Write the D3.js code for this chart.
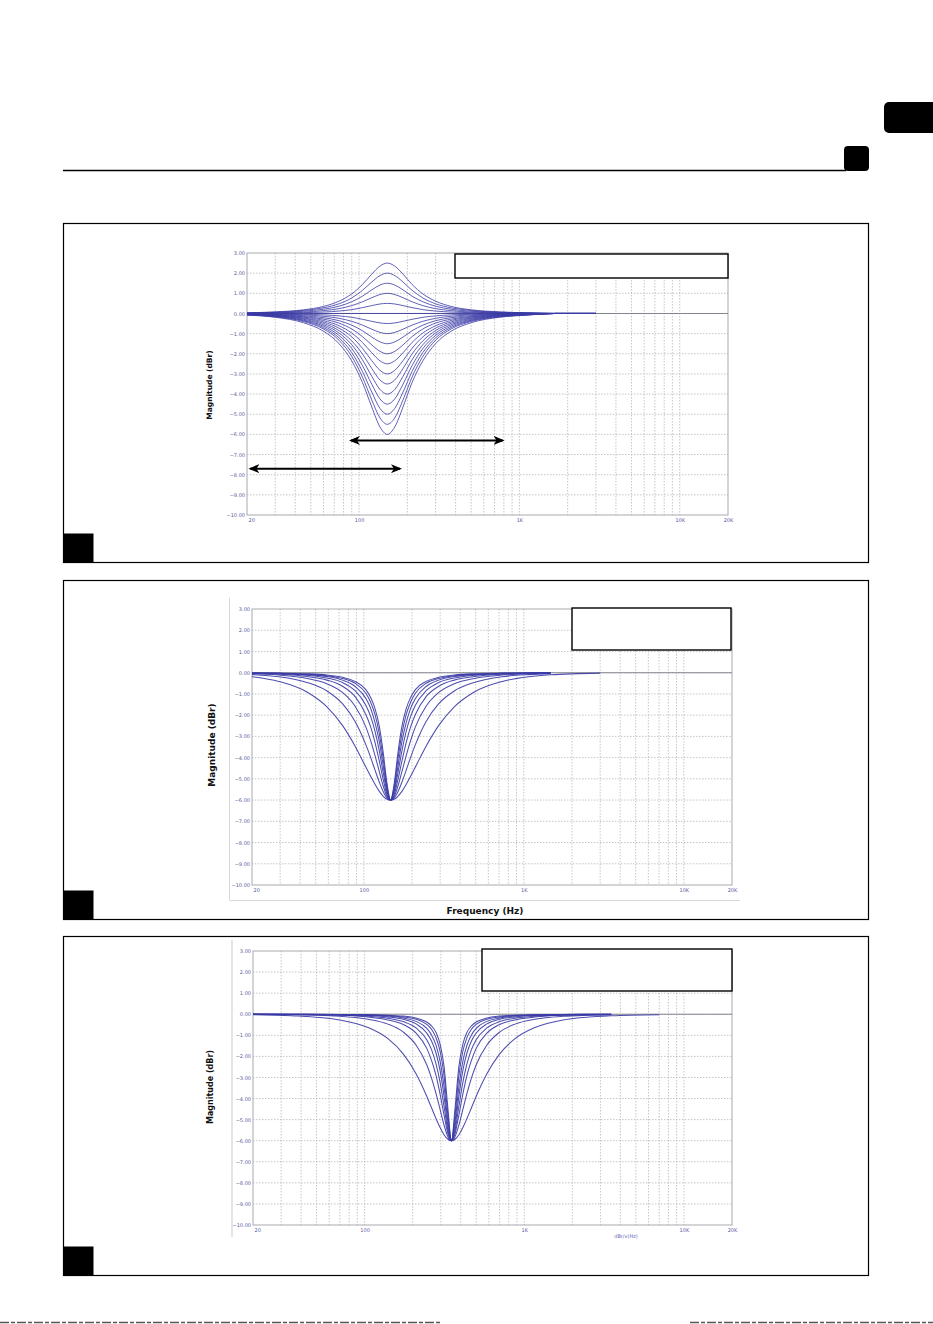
<!DOCTYPE html>
<html>
<head>
<meta charset="utf-8">
<script src="https://cdn.jsdelivr.net/npm/d3@7"></script>
<style>
  body { margin: 0; background: #fff; }
  svg { display: block; }
  .tick text { font-family: "DejaVu Sans", sans-serif; font-size: 5px; fill: #5a5a9e; }
</style>
</head>
<body>
<svg id="page"></svg>
<script>
// shared axis values
const yTicks = [3, 2, 1, 0, -1, -2, -3, -4, -5, -6, -7, -8, -9, -10];
const xTicks = [20, 100, 1000, 10000, 20000];
const xTickLabels = ["20", "100", "1K", "10K", "20K"];

// chart 1: boost / cut family around 150 Hz, +2.5 to -6 dB in 0.5 dB steps
const freqs1 = [20, 30, 45, 60, 75, 90, 105, 120, 135, 150, 167, 188, 214, 250, 300, 375, 500, 750, 1125, 1700, 3000];
const gains1 = [2.5, 2, 1.5, 1, 0.5, 0, -0.5, -1, -1.5, -2, -2.5, -3, -3.5, -4, -4.5, -5, -5.5, -6];
const curves1 = [
  [0.03,0.08,0.18,0.35,0.61,0.97,1.44,1.95,2.35,2.5,2.35,1.95,1.44,0.97,0.61,0.35,0.18,0.08,0.03,0,0],
  [0.03,0.06,0.15,0.28,0.48,0.77,1.15,1.56,1.88,2,1.88,1.56,1.15,0.77,0.48,0.28,0.15,0.06,0.03,0,0],
  [0.02,0.05,0.11,0.21,0.36,0.58,0.86,1.17,1.41,1.5,1.41,1.17,0.86,0.58,0.36,0.21,0.11,0.05,0.02,0,0],
  [0.01,0.03,0.07,0.14,0.24,0.39,0.58,0.78,0.94,1,0.94,0.78,0.58,0.39,0.24,0.14,0.07,0.03,0.01,0,0],
  [0.01,0.02,0.04,0.07,0.12,0.19,0.29,0.39,0.47,0.5,0.47,0.39,0.29,0.19,0.12,0.07,0.04,0.02,0.01,0,0],
  [0,0,0,0,0,0,0,0,0,0,0,0,0,0,0,0,0,0,0,0,0],
  [-0.01,-0.02,-0.04,-0.07,-0.12,-0.19,-0.29,-0.39,-0.47,-0.5,-0.47,-0.39,-0.29,-0.19,-0.12,-0.07,-0.04,-0.02,-0.01,0,0],
  [-0.01,-0.03,-0.07,-0.14,-0.24,-0.39,-0.58,-0.78,-0.94,-1,-0.94,-0.78,-0.58,-0.39,-0.24,-0.14,-0.07,-0.03,-0.01,0,0],
  [-0.02,-0.05,-0.11,-0.21,-0.36,-0.58,-0.86,-1.17,-1.41,-1.5,-1.41,-1.17,-0.86,-0.58,-0.36,-0.21,-0.11,-0.05,-0.02,0,0],
  [-0.03,-0.06,-0.15,-0.28,-0.48,-0.77,-1.15,-1.56,-1.88,-2,-1.88,-1.56,-1.15,-0.77,-0.48,-0.28,-0.15,-0.06,-0.03,0,0],
  [-0.03,-0.08,-0.18,-0.35,-0.61,-0.97,-1.44,-1.95,-2.35,-2.5,-2.35,-1.95,-1.44,-0.97,-0.61,-0.35,-0.18,-0.08,-0.03,0,0],
  [-0.04,-0.09,-0.22,-0.42,-0.73,-1.16,-1.73,-2.34,-2.82,-3,-2.82,-2.34,-1.73,-1.16,-0.73,-0.42,-0.22,-0.09,-0.04,0,0],
  [-0.05,-0.11,-0.25,-0.49,-0.85,-1.36,-2.01,-2.73,-3.3,-3.5,-3.3,-2.73,-2.01,-1.36,-0.85,-0.49,-0.25,-0.11,-0.05,0,0],
  [-0.05,-0.12,-0.29,-0.56,-0.97,-1.55,-2.3,-3.12,-3.77,-4,-3.77,-3.12,-2.3,-1.55,-0.97,-0.56,-0.29,-0.12,-0.05,0,0],
  [-0.06,-0.14,-0.33,-0.63,-1.09,-1.74,-2.59,-3.51,-4.24,-4.5,-4.24,-3.51,-2.59,-1.74,-1.09,-0.63,-0.33,-0.14,-0.06,0,0],
  [-0.07,-0.15,-0.36,-0.7,-1.21,-1.94,-2.88,-3.9,-4.71,-5,-4.71,-3.9,-2.88,-1.94,-1.21,-0.7,-0.36,-0.15,-0.07,0,0],
  [-0.07,-0.17,-0.4,-0.77,-1.33,-2.13,-3.16,-4.29,-5.18,-5.5,-5.18,-4.29,-3.16,-2.13,-1.33,-0.77,-0.4,-0.17,-0.07,0,0],
  [-0.08,-0.19,-0.46,-0.88,-1.5,-2.35,-3.43,-4.64,-5.63,-6,-5.63,-4.64,-3.43,-2.35,-1.5,-0.88,-0.46,-0.19,-0.08,0,0]
];
// range arrows on chart 1 (Hz, dB)
const arrowFrom = [89, 21];
const arrowTo = [785, 180];
const arrowDb = [-6.3, -7.7];

// chart 2: -6 dB cut at ~147 Hz, widths from wide to narrow
const freqs2 = [20, 29.4, 44.1, 58.8, 73.5, 88.2, 102.9, 110.3, 117.6, 125, 132.3, 139.7, 147, 154.7, 163.3, 172.9, 183.8, 196, 210, 245, 294, 367.5, 490, 735, 1080, 1470, 3000];
const curves2 = [
  [-0.19,-0.41,-0.91,-1.61,-2.48,-3.46,-4.44,-4.88,-5.27,-5.59,-5.82,-5.96,-6,-5.96,-5.82,-5.59,-5.27,-4.88,-4.44,-3.46,-2.48,-1.61,-0.91,-0.41,-0.19,-0.1,-0.02],
  [-0.09,-0.19,-0.46,-0.86,-1.46,-2.3,-3.39,-3.99,-4.6,-5.16,-5.61,-5.91,-6,-5.91,-5.61,-5.16,-4.6,-3.99,-3.39,-2.3,-1.46,-0.86,-0.46,-0.19,-0.09,-0.05],
  [-0.05,-0.11,-0.27,-0.52,-0.93,-1.58,-2.55,-3.2,-3.92,-4.67,-5.35,-5.83,-6,-5.83,-5.35,-4.67,-3.92,-3.2,-2.55,-1.58,-0.93,-0.52,-0.27,-0.11,-0.05,-0.03],
  [-0.03,-0.07,-0.18,-0.35,-0.64,-1.13,-1.97,-2.55,-3.3,-4.17,-5.05,-5.74,-6,-5.74,-5.05,-4.17,-3.3,-2.55,-1.97,-1.13,-0.64,-0.35,-0.18,-0.07,-0.03,-0.02],
  [-0.02,-0.05,-0.12,-0.25,-0.46,-0.85,-1.53,-2.06,-2.78,-3.69,-4.73,-5.63,-6,-5.63,-4.73,-3.69,-2.78,-2.06,-1.53,-0.85,-0.46,-0.25,-0.12,-0.05,-0.02,-0.01],
  [-0.02,-0.04,-0.09,-0.18,-0.35,-0.65,-1.21,-1.68,-2.36,-3.26,-4.41,-5.51,-6,-5.51,-4.41,-3.26,-2.36,-1.68,-1.21,-0.65,-0.35,-0.18,-0.09,-0.04,-0.02,-0.01],
  [-0.01,-0.03,-0.07,-0.14,-0.27,-0.5,-0.97,-1.39,-1.99,-2.88,-4.08,-5.38,-6,-5.38,-4.08,-2.88,-1.99,-1.39,-0.97,-0.5,-0.27,-0.14,-0.07,-0.03,-0.01,-0.01],
  [-0.01,-0.02,-0.05,-0.11,-0.22,-0.41,-0.8,-1.17,-1.7,-2.54,-3.78,-5.24,-6,-5.24,-3.78,-2.54,-1.7,-1.17,-0.8,-0.41,-0.22,-0.11,-0.05,-0.02,-0.01,0]
];

// chart 3: -6 dB cut at ~350 Hz, widths from wide to narrow
const freqs3 = [20, 35, 70, 105, 140, 175, 210, 245, 262.5, 280, 297.5, 315, 332.5, 350, 368.4, 388.9, 411.8, 437.5, 466.7, 500, 583.3, 700, 875, 1166.7, 1750, 3500, 7000];
const curves3 = [
  [-0.02,-0.07,-0.27,-0.63,-1.16,-1.89,-2.82,-3.89,-4.44,-4.95,-5.39,-5.73,-5.93,-6,-5.93,-5.73,-5.39,-4.95,-4.44,-3.89,-2.82,-1.89,-1.16,-0.63,-0.27,-0.07,-0.02],
  [-0.01,-0.02,-0.1,-0.24,-0.47,-0.85,-1.46,-2.4,-3.03,-3.76,-4.54,-5.28,-5.81,-6,-5.81,-5.28,-4.54,-3.76,-3.03,-2.4,-1.46,-0.85,-0.47,-0.24,-0.1,-0.02],
  [0,-0.01,-0.05,-0.13,-0.27,-0.49,-0.9,-1.62,-2.19,-2.9,-3.81,-4.81,-5.66,-6,-5.66,-4.81,-3.81,-2.9,-2.19,-1.62,-0.9,-0.49,-0.27,-0.13,-0.05,-0.01],
  [0,-0.01,-0.04,-0.09,-0.19,-0.35,-0.65,-1.21,-1.68,-2.36,-3.26,-4.41,-5.51,-6,-5.51,-4.41,-3.26,-2.36,-1.68,-1.21,-0.65,-0.35,-0.19,-0.09,-0.04,-0.01],
  [0,-0.01,-0.02,-0.06,-0.13,-0.24,-0.46,-0.89,-1.27,-1.84,-2.7,-3.93,-5.32,-6,-5.32,-3.93,-2.7,-1.84,-1.27,-0.89,-0.46,-0.24,-0.13,-0.06,-0.02,-0.01],
  [0,0,-0.02,-0.04,-0.09,-0.18,-0.34,-0.67,-0.98,-1.47,-2.26,-3.49,-5.09,-6,-5.09,-3.49,-2.26,-1.47,-0.98,-0.67,-0.34,-0.18,-0.09,-0.04,-0.02,0],
  [0,0,-0.01,-0.03,-0.06,-0.13,-0.24,-0.48,-0.71,-1.11,-1.78,-2.96,-4.78,-6,-4.78,-2.96,-1.78,-1.11,-0.71,-0.48,-0.24,-0.13,-0.06,-0.03,-0.01,0],
  [0,0,-0.01,-0.02,-0.05,-0.09,-0.18,-0.37,-0.55,-0.86,-1.44,-2.52,-4.47,-6,-4.47,-2.52,-1.44,-0.86,-0.55,-0.37,-0.18,-0.09,-0.05,-0.02,-0.01,0]
];

const W = 933, H = 1324;
const svg = d3.select("#page").attr("width", W).attr("height", H);
const fontBold = "'DejaVu Sans', Verdana, sans-serif";

// page furniture
svg.append("rect").attr("x", 884).attr("y", 102).attr("width", 60).attr("height", 31).attr("rx", 5).attr("fill", "#000");
svg.append("rect").attr("x", 844).attr("y", 146).attr("width", 25).attr("height", 25).attr("rx", 4).attr("fill", "#000");
svg.append("line").attr("x1", 63).attr("x2", 846).attr("y1", 170.5).attr("y2", 170.5)
   .attr("stroke", "#000").attr("stroke-width", 1.3);

const panelTops = [223.5, 580.5, 936.5];
panelTops.forEach(t => {
  svg.append("rect").attr("x", 63.5).attr("y", t).attr("width", 805).attr("height", 339)
     .attr("fill", "none").attr("stroke", "#000").attr("stroke-width", 1.2);
  svg.append("rect").attr("x", 63.5).attr("y", t + 310).attr("width", 30).attr("height", 29).attr("fill", "#000");
});

// dashed bottom edge
[[0, 440], [690, 933]].forEach(s => {
  svg.append("line").attr("x1", s[0]).attr("x2", s[1]).attr("y1", 1322.5).attr("y2", 1322.5)
     .attr("stroke", "#555").attr("stroke-width", 1.5).attr("stroke-dasharray", "9,2,4,2");
});

const gridFreqs = [];
[10, 100, 1000, 10000].forEach(dec => {
  for (let k = 1; k <= 9; k++) {
    const f = dec * k;
    if (f > 20 && f < 20000) gridFreqs.push(f);
  }
});

function drawChart(box, freqs, rows, opt) {
  const g = svg.append("g");
  const x = d3.scaleLog().domain([20, 20000]).range([box.left, box.right]);
  const y = d3.scaleLinear().domain([-10, 3]).range([box.bottom, box.top]);

  // grid
  g.append("g").selectAll("line").data(gridFreqs).join("line")
   .attr("x1", d => x(d)).attr("x2", d => x(d))
   .attr("y1", box.top).attr("y2", box.bottom)
   .attr("stroke", "#b8b8b8").attr("stroke-width", 0.8).attr("stroke-dasharray", "1.5,1.5");
  g.append("g").selectAll("line").data(yTicks.filter(v => v < 3 && v > -10)).join("line")
   .attr("x1", box.left).attr("x2", box.right)
   .attr("y1", d => y(d)).attr("y2", d => y(d))
   .attr("stroke", "#b8b8b8").attr("stroke-width", 0.8).attr("stroke-dasharray", "1.5,1.5");

  g.append("rect").attr("x", box.left).attr("y", box.top)
   .attr("width", box.right - box.left).attr("height", box.bottom - box.top)
   .attr("fill", "none").attr("stroke", "#a9a9b0").attr("stroke-width", 1);

  // axes
  const ya = g.append("g").attr("transform", "translate(" + box.left + ",0)")
    .call(d3.axisLeft(y).tickValues(yTicks).tickFormat(d3.format(".2f")).tickSize(0).tickPadding(2));
  ya.select(".domain").remove();
  const xa = g.append("g").attr("transform", "translate(0," + box.bottom + ")")
    .call(d3.axisBottom(x).tickValues(xTicks).tickFormat((d, i) => xTickLabels[i]).tickSize(0).tickPadding(3));
  xa.select(".domain").remove();
  xa.select(".tick text").attr("text-anchor", "start").attr("x", 1);

  // 0 dB reference line
  g.append("line").attr("x1", box.left).attr("x2", box.right)
   .attr("y1", y(0)).attr("y2", y(0))
   .attr("stroke", "#85858f").attr("stroke-width", 1.1);

  const line = d3.line().x(d => x(d[0])).y(d => y(d[1])).curve(d3.curveMonotoneX);
  g.append("g").selectAll("path").data(rows).join("path")
   .attr("d", r => line(d3.zip(freqs.slice(0, r.length), r)))
   .attr("fill", "none").attr("stroke", "#3a3aa6").attr("stroke-width", opt.lw).attr("stroke-opacity", 0.9);

  // empty legend box
  g.append("rect").attr("x", opt.legend[0]).attr("y", opt.legend[1])
   .attr("width", opt.legend[2]).attr("height", opt.legend[3])
   .attr("fill", "#fff").attr("stroke", "#000").attr("stroke-width", 1.4);

  g.append("text")
   .attr("transform", "translate(" + opt.ylab[0] + "," + opt.ylab[1] + ") rotate(-90)")
   .attr("text-anchor", "middle").attr("font-family", fontBold).attr("font-weight", "bold")
   .attr("font-size", opt.ylab[2]).attr("fill", "#111").text("Magnitude (dBr)");

  return { g, x, y };
}

// chart 1
const c1 = drawChart({ left: 247, right: 728, top: 253, bottom: 515 }, freqs1, curves1,
  { legend: [455, 254, 273, 24], ylab: [211.5, 385, 7.5], lw: 0.9 });

const defs = svg.append("defs");
defs.append("marker").attr("id", "ah").attr("viewBox", "0 0 11 9")
    .attr("refX", 9).attr("refY", 4.5).attr("markerWidth", 11).attr("markerHeight", 9)
    .attr("markerUnits", "userSpaceOnUse").attr("orient", "auto-start-reverse")
  .append("path").attr("d", "M0,0 L11,4.5 L0,9 L3,4.5 Z").attr("fill", "#000");

c1.g.append("g").selectAll("line").data(arrowFrom).join("line")
  .attr("x1", (d, i) => c1.x(arrowFrom[i])).attr("x2", (d, i) => c1.x(arrowTo[i]))
  .attr("y1", (d, i) => c1.y(arrowDb[i])).attr("y2", (d, i) => c1.y(arrowDb[i]))
  .attr("stroke", "#000").attr("stroke-width", 2)
  .attr("marker-start", "url(#ah)").attr("marker-end", "url(#ah)");

// chart 2
svg.append("path").attr("d", "M229.5,598 V900.5 H740")
   .attr("fill", "none").attr("stroke", "#d9d9d9").attr("stroke-width", 1);
drawChart({ left: 252, right: 732, top: 609, bottom: 885 }, freqs2, curves2,
  { legend: [572, 608, 159, 42], ylab: [214.5, 745, 9], lw: 1.05 });
svg.append("text").attr("x", 485).attr("y", 914).attr("text-anchor", "middle")
   .attr("font-family", fontBold).attr("font-weight", "bold").attr("font-size", 9)
   .attr("fill", "#111").text("Frequency (Hz)");

// chart 3
svg.append("line").attr("x1", 232).attr("x2", 232).attr("y1", 940).attr("y2", 1237)
   .attr("stroke", "#d3d3d3").attr("stroke-width", 1.2);
drawChart({ left: 253, right: 732, top: 951, bottom: 1225 }, freqs3, curves3,
  { legend: [482, 949, 250, 42], ylab: [213, 1087, 8], lw: 1.05 });
svg.append("text").attr("x", 626).attr("y", 1238).attr("text-anchor", "middle")
   .attr("font-family", fontBold).attr("font-size", 5)
   .attr("fill", "#6a6ab8").text("dBr/v(Hz)");
</script>
</body>
</html>
